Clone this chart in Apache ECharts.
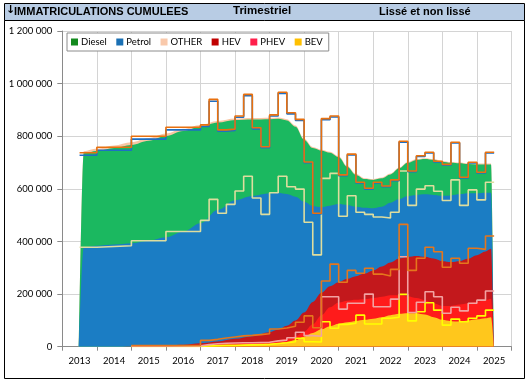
<!DOCTYPE html>
<html><head><meta charset="utf-8">
<script src="https://cdn.jsdelivr.net/npm/echarts@6/dist/echarts.min.js"></script>
<style>html,body{margin:0;padding:0;background:#fff}#c{width:529px;height:383px}</style>
</head><body><div id="c"></div>
<script>
// ---- axis categories / ticks ----
const years = ['2013','2014','2015','2016','2017','2018','2019','2020','2021','2022','2023','2024','2025'];
const yMax = 1200000, yStep = 200000;

// ---- raw (non-smoothed) periods: annual until 2016, then quarterly; values in thousands ----
const rawStart = [2013.5,2014,2015,2016,
  2017,2017.25,2017.5,2017.75, 2018,2018.25,2018.5,2018.75, 2019,2019.25,2019.5,2019.75,
  2020,2020.25,2020.5,2020.75, 2021,2021.25,2021.5,2021.75, 2022,2022.25,2022.5,2022.75,
  2023,2023.25,2023.5,2023.75, 2024,2024.25,2024.5,2024.75, 2025,2025.25];
const rawEnd = 2025.5;
const rawBEV    = [null,null,1,1, 3,4,5,5, 6,7,8,9, 12,15,19,32, 19,18,95,70, 85,89,120,86, 86,108,112,199, 98,133,167,139, 82,105,95,108, 117,139];
const rawPHEV   = [null,null,1,2, 5,7,8,9, 9,8,8,8, 10,10,15,23, 23,22,95,120, 58,76,45,114, 66,44,69,143, 32,36,42,51, 45,45,41,57, 60,73];
const rawHEV    = [null,null,2,2, 16,17,20,23, 26,28,30,32, 45,46,44,38, 75,32,60,124, 102,125,114,98, 124,117,113,123, 160,167,169,171, 175,186,181,209, 193,209];
const rawPetrol = [378,384,399,433, 456,532,474,504, 551,605,519,454, 518,577,530,506, 356,277,390,345, 251,284,232,205, 217,220,217,203, 247,263,234,230, 254,298,220,222, 188,204];
const rawDiesel = [350,363,386,386, 357,373,312,281, 280,306,263,253, 292,315,277,261, 226,156,223,214, 154,155,111,96, 129,119,120,109, 128,124,124,111, 134,140,104,102, 102,111];
const rawOther  = [9,11,11,10, 6,7,5,5, 5,5,4,4, 4,4,4,4, 3,2,4,4, 3,3,3,3, 3,3,3,4, 3,3,3,3, 3,3,3,3, 3,3];

// ---- smoothed ("lissé") values, thousands ----
const smT = [2013.48,2013.62,2014,2014.5,2015,2015.5,2016,2016.5,2017,2017.5,2018,2018.5,2019,2019.25,2019.5,2019.75,
  2020,2020.25,2020.5,2020.75,2021,2021.25,2021.5,2021.75,2022,2022.25,2022.5,2022.75,
  2023,2023.25,2023.5,2023.75,2024,2024.25,2024.5,2024.75,2025,2025.25,2025.41,2025.49];
const smBEV    = [0,0,0,0,0,0,0,1,2,4,6,8,11,14,18,25,38,52,66,78,87,93,98,102,106,112,120,125,127,127,122,112,102,97,96,100,104,108,112,0];
const smPHEV   = [0,0,0,0,0,0,1,2,4,6,7,8,9,10,12,15,19,33,54,72,81,82,80,78,79,78,76,71,65,58,55,53,53,58,64,65,67,69,70,0];
const smHEV    = [0,0,0,0,1,3,3,4,7,10,17,24,35,41,50,60,73,85,85,80,77,83,90,98,105,115,124,139,150,160,165,170,170,167,165,170,177,185,190,0];
const smPetrol = [0,378,384,388,392,400,412,430,456,500,527,533,528,520,500,470,421,365,325,306,297,281,264,250,236,227,227,226,231,232,237,242,249,253,255,248,235,223,213,0];
const smDiesel = [0,357,360,367,374,380,385,383,367,332,305,291,282,281,280,266,235,220,215,201,178,144,121,109,108,108,108,117,126,133,134,133,129,124,117,111,110,108,108,0];
const smOther  = [0,8,9,10,10,10,9,8,7,6,5,5,5,5,5,5,4,4,4,4,4,4,4,3,3,3,3,3,3,3,3,3,3,3,3,3,3,3,3,0];

// ---- styles ----
const order = ['BEV','PHEV','HEV','Petrol','Diesel','OTHER'];
const legendOrder = ['Diesel','Petrol','OTHER','HEV','PHEV','BEV'];
const areaColor = {BEV:'#FFC71C', PHEV:'#FF1B1B', HEV:'#C3181C', Petrol:'#1B7DC4', Diesel:'#1BB860', OTHER:'#F8C6A4'};
const legendColor = {BEV:'#FFC000', PHEV:'#FF1F4B', HEV:'#C00000', Petrol:'#1A70B4', Diesel:'#138A1E', OTHER:'#F9C9AB'};
const lineColor = {BEV:'#FFFF00', PHEV:'#F2A2A2', HEV:'#E5761C', Petrol:'#DEDD9E', Diesel:'#1E6FC4', OTHER:'#E8700F'};

const smSrc = {BEV:smBEV, PHEV:smPHEV, HEV:smHEV, Petrol:smPetrol, Diesel:smDiesel, OTHER:smOther};
const rawSrc = {BEV:rawBEV, PHEV:rawPHEV, HEV:rawHEV, Petrol:rawPetrol, Diesel:rawDiesel, OTHER:rawOther};

function cumulate(src, n) {
  const out = {}; let acc = new Array(n).fill(0);
  order.forEach(k => {
    acc = acc.map((a, i) => a + (src[k][i] == null ? 0 : src[k][i]));
    out[k] = acc.map((a, i) => src[k][i] == null ? null : a * 1000);
  });
  return out;
}
const smCum = cumulate(smSrc, smT.length);
const rawCum = cumulate(rawSrc, rawStart.length);

const series = [];
order.slice().reverse().forEach(k => {
  series.push({
    type:'line', name:k, xAxisIndex:1, yAxisIndex:0, smooth:0.35, smoothMonotone:'x',
    showSymbol:false, silent:true, z:2,
    data: smT.map((t, i) => [t, smCum[k][i]]),
    lineStyle:{width:0, color:areaColor[k]},
    itemStyle:{color:legendColor[k]},
    areaStyle:{color:areaColor[k], opacity:1}
  });
});
order.forEach(k => {
  const d = rawStart.map((t, i) => [t, rawCum[k][i]]);
  d.push([rawEnd, rawCum[k][rawCum[k].length - 1]]);
  series.push({
    type:'line', name:k + ' brut', xAxisIndex:1, yAxisIndex:0, step:'end',
    showSymbol:false, silent:true, z:3, data:d,
    lineStyle:{width:1.6, color:lineColor[k]}, itemStyle:{color:lineColor[k]}
  });
});

const tickFont = 'Lato, "Open Sans", sans-serif';
const chart = echarts.init(document.getElementById('c'), null, {renderer:'canvas'});
chart.setOption({
  animation:false,
  backgroundColor:'#ffffff',
  graphic:[
    {type:'rect', shape:{x:4.5, y:3.5, width:520, height:17}, style:{fill:'#B8CCE4', stroke:'#000', lineWidth:1}, z:-1, silent:true},
    {type:'rect', shape:{x:4.5, y:20.5, width:520, height:358}, style:{fill:'#fff', stroke:'#000', lineWidth:1}, z:-1, silent:true},
    {type:'text', left:6, top:5, style:{text:'\u2193', font:'bold 11px "DejaVu Sans", sans-serif', fill:'#000'}, z:10},
    {type:'text', left:14, top:6, style:{text:'IMMATRICULATIONS CUMULEES', font:'bold 11px "Liberation Sans", Arial, sans-serif', fill:'#000'}, z:10},
    {type:'text', left:233, top:5, style:{text:'Trimestriel', font:'bold 11.5px "Liberation Sans", Arial, sans-serif', fill:'#000'}, z:10},
    {type:'text', left:379, top:6, style:{text:'Liss\u00e9 et non liss\u00e9', font:'bold 11px "Liberation Sans", Arial, sans-serif', fill:'#000'}, z:10}
  ],
  grid:{left:62.3, right:17.6, top:31, bottom:36.3, containLabel:false},
  legend:{
    left:67, top:33, orient:'horizontal', selectedMode:false,
    data: legendOrder.map(k => ({name:k, itemStyle:{color:legendColor[k]}})),
    icon:'rect', itemWidth:7, itemHeight:7, itemGap:9.5,
    padding:[4,6,4,4], borderColor:'#8c8c8c', borderWidth:1, backgroundColor:'#fff',
    textStyle:{fontFamily:tickFont, fontSize:9.5, color:'#000', padding:[0,0,0,-2]}
  },
  xAxis:[
    {type:'category', data:years, boundaryGap:true, gridIndex:0,
     axisLine:{lineStyle:{color:'#8a8a8a', width:1}},
     axisTick:{show:true, length:4, lineStyle:{color:'#8a8a8a'}},
     axisLabel:{fontFamily:tickFont, fontSize:9.5, color:'#000', margin:9},
     splitLine:{show:true, lineStyle:{color:'#d4d4d4', width:1}}},
    {type:'value', min:2013, max:2026, show:false, gridIndex:0}
  ],
  yAxis:[{type:'value', min:0, max:yMax, interval:yStep,
    axisLine:{show:true, lineStyle:{color:'#8a8a8a', width:1}},
    axisTick:{show:true, length:5, lineStyle:{color:'#8a8a8a'}},
    axisLabel:{fontFamily:tickFont, fontSize:9.5, color:'#000', margin:10,
      formatter: v => String(v).replace(/\B(?=(\d{3})+(?!\d))/g, '\u00a0')},
    splitLine:{show:true, lineStyle:{color:'#d4d4d4', width:1}}}],
  series: series
});
</script></body></html>
